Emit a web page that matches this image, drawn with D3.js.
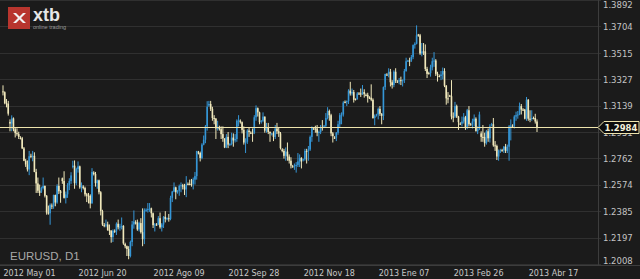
<!DOCTYPE html>
<html>
<head>
<meta charset="utf-8">
<script src="https://cdn.jsdelivr.net/npm/d3@7"></script>
<style>
  html, body { margin: 0; padding: 0; background: #1b1b1b; }
  svg { display: block; }
</style>
</head>
<body>
<div id="chart"></div>
<script>
// EURUSD D1 - velas diarias (precio = valor / 10000), incluye velas de domingo
// cada vela: [apertura, máximo, mínimo, cierre]
const may2012 = [
  [13240,13283,13211,13234],[13234,13240,13148,13156],[13156,13185,13126,13152],[13152,13172,13067,13081],
  [13022,13040,12955,13010],[13010,13069,12955,13047],[13047,13054,12955,12969],[12969,12985,12911,12942],[12942,12976,12923,12935],[12935,12952,12900,12915],
  [12906,12920,12898,12905],[12905,12915,12828,12833],[12833,12843,12742,12745],[12745,12758,12701,12718],[12718,12747,12668,12683],[12683,12815,12642,12777],
  [12780,12795,12765,12775],[12775,12815,12741,12780],[12780,12805,12663,12665],[12665,12687,12515,12583],[12583,12625,12515,12531],[12531,12575,12494,12515],
  [12525,12560,12515,12550],[12550,12625,12540,12565],[12565,12568,12483,12495],[12495,12500,12360,12375],[12375,12425,12360,12370]
];
const jun2012 = [
  [12370,12440,12288,12430],
  [12425,12440,12400,12420],[12420,12503,12402,12500],[12500,12503,12420,12447],[12447,12577,12438,12565],[12565,12625,12507,12527],[12527,12536,12445,12515],
  [12620,12625,12580,12600],[12600,12670,12475,12480],[12480,12525,12440,12505],[12505,12585,12480,12570],[12570,12620,12535,12600],[12600,12663,12580,12640],
  [12700,12745,12690,12710],[12710,12747,12545,12585],[12585,12695,12570,12685],[12685,12740,12660,12705],[12705,12710,12545,12555],[12555,12590,12520,12570],
  [12560,12570,12540,12550],[12550,12560,12490,12505],[12505,12515,12450,12495],[12495,12515,12440,12495],[12495,12505,12405,12440],[12440,12692,12440,12665]
];
const jul2012 = [
  [12660,12670,12640,12650],[12650,12665,12560,12585],[12585,12610,12545,12605],[12605,12610,12505,12520],[12520,12528,12355,12385],[12385,12395,12280,12290],
  [12285,12300,12270,12285],[12285,12325,12270,12290],[12290,12310,12245,12250],[12250,12290,12215,12245],[12245,12250,12160,12200],[12200,12255,12165,12245],
  [12245,12255,12230,12240],[12240,12305,12215,12295],[12295,12325,12255,12270],[12270,12295,12245,12275],[12275,12340,12255,12280],[12280,12285,12145,12155],
  [12150,12160,12120,12135],[12135,12140,12065,12115],[12115,12135,12042,12065],[12065,12175,12055,12165],[12165,12315,12135,12290],[12290,12390,12260,12310],
  [12305,12320,12290,12305],[12305,12325,12245,12255],[12255,12310,12240,12300]
];
const aug2012 = [
  [12300,12335,12225,12235],[12235,12405,12135,12185],[12185,12405,12150,12390],
  [12390,12405,12380,12395],[12395,12443,12375,12400],[12400,12443,12380,12405],[12405,12410,12340,12370],[12370,12375,12265,12285],[12285,12300,12240,12290],
  [12290,12300,12280,12290],[12290,12350,12285,12335],[12335,12375,12260,12270],[12270,12300,12240,12290],[12290,12350,12265,12345],[12345,12385,12305,12330],
  [12330,12340,12320,12335],[12335,12365,12310,12330],[12330,12495,12320,12480],[12480,12530,12450,12525],[12525,12590,12520,12555],[12555,12560,12470,12520],
  [12520,12535,12510,12530],[12530,12575,12495,12565],[12565,12590,12520,12570],[12570,12580,12540,12560],[12560,12580,12500,12540],[12540,12635,12485,12575]
];
const sep2012 = [
  [12580,12590,12570,12580],[12580,12610,12570,12580],[12580,12615,12560,12580],[12580,12625,12540,12610],[12610,12665,12575,12635],[12635,12815,12610,12815],
  [12805,12815,12790,12800],[12800,12810,12740,12765],[12765,12870,12755,12860],[12860,12925,12855,12895],[12895,13000,12870,12990],[12990,13170,12960,13130],
  [13140,13172,13130,13150],[13150,13172,13100,13115],[13115,13130,13030,13050],[13050,13070,13005,13045],[13045,13050,12900,12975],[12975,13030,12960,12980],
  [12985,12995,12960,12970],[12970,12990,12900,12935],[12935,12990,12880,12905],[12905,12905,12835,12840],[12840,12935,12835,12915],[12915,12950,12835,12860],
  [12860,12870,12850,12865]
];
const oct2012 = [
  [12865,12945,12855,12910],[12910,12940,12845,12890],[12890,12935,12875,12900],[12900,13040,12880,13030],[13030,13070,12990,13035],
  [13030,13040,13010,13020],[13020,13025,12940,12965],[12965,12990,12860,12875],[12875,12905,12800,12880],[12880,12970,12865,12960],[12960,12985,12915,12950],
  [12945,12955,12935,12945],[12945,12975,12880,12945],[12945,13070,12935,13055],[13055,13140,13030,13120],[13120,13125,13060,13090],[13090,13095,13005,13020],
  [13025,13035,13010,13030],[13030,13090,13020,13060],[13060,13060,12945,12960],[12960,13015,12945,12980],[12980,13015,12935,12950],[12950,12955,12880,12940],
  [12935,12945,12925,12940],[12940,12955,12885,12915],[12915,13000,12900,12975],[12975,13015,12935,12955]
];
const nov2012 = [
  [12955,12985,12915,12940],[12940,12950,12825,12835],
  [12825,12835,12805,12815],[12815,12830,12760,12780],[12780,12840,12745,12810],[12810,12875,12745,12775],[12775,12790,12725,12745],[12745,12770,12690,12710],
  [12705,12715,12695,12705],[12705,12725,12680,12710],[12710,12735,12660,12715],[12715,12800,12700,12740],[12740,12790,12700,12765],[12765,12770,12690,12740],
  [12750,12760,12740,12755],[12755,12830,12745,12815],[12815,12830,12725,12815],[12815,12850,12745,12825],[12825,12925,12815,12915],[12915,12990,12880,12980],
  [12975,12985,12965,12975],[12975,12995,12945,12975],[12975,13000,12920,12945],[12945,12960,12880,12950],[12950,13000,12935,12985],[12985,13035,12960,12985]
];
const dec2012 = [
  [12990,13000,12980,12995],[12995,13085,12985,13050],[13050,13127,13040,13100],[13100,13110,13030,13070],[13070,13080,12920,12940],[12940,12950,12875,12920],
  [12910,12920,12900,12910],[12910,12950,12885,12945],[12945,13030,12930,13005],[13005,13085,12985,13070],[13070,13090,13005,13075],[13075,13170,13060,13160],
  [13165,13175,13155,13165],[13165,13175,13135,13170],[13170,13255,13150,13245],[13245,13308,13210,13225],[13225,13260,13210,13235],[13235,13250,13160,13180],
  [13185,13190,13175,13185],[13185,13235,13180,13225],[13225,13235,13215,13225],[13225,13260,13200,13220],[13220,13285,13215,13235],[13235,13255,13195,13220],
  [13215,13225,13205,13215],[13215,13230,13160,13195]
];
const jan2013 = [
  [13195,13205,13185,13195],[13195,13290,13170,13180],[13180,13190,13045,13050],[13050,13075,12998,13065],
  [13070,13080,13060,13075],[13075,13125,13040,13115],[13115,13135,13065,13080],[13080,13085,13005,13065],[13065,13275,13035,13270],[13270,13365,13250,13365],
  [13360,13370,13350,13360],[13360,13405,13340,13380],[13380,13400,13275,13305],[13305,13320,13260,13285],[13285,13390,13270,13380],[13380,13405,13300,13315],
  [13310,13320,13300,13310],[13310,13335,13290,13320],[13320,13345,13285,13315],[13315,13325,13275,13320],[13320,13400,13300,13385],[13385,13480,13380,13455],
  [13455,13465,13450,13460],[13460,13480,13420,13460],[13460,13500,13450,13485],[13485,13575,13470,13570],[13570,13590,13545,13580]
];
const feb2013 = [
  [13580,13711,13575,13640],
  [13645,13650,13630,13640],[13640,13650,13500,13510],[13510,13585,13490,13525],[13525,13585,13500,13525],[13525,13575,13385,13400],[13400,13415,13335,13365],
  [13370,13380,13360,13370],[13370,13430,13345,13410],[13410,13480,13390,13455],[13455,13520,13415,13460],[13460,13470,13350,13365],[13365,13380,13310,13360],
  [13350,13360,13340,13350],[13350,13385,13320,13360],[13360,13410,13325,13385],[13385,13405,13270,13280],[13280,13285,13145,13190],[13190,13235,13155,13190],
  [13210,13215,13200,13205],[13205,13320,13040,13060],[13060,13090,13020,13060],[13060,13165,13050,13135],[13135,13145,13050,13060]
];
const mar2013 = [
  [13060,13065,12965,13020],
  [13010,13020,13000,13010],[13010,13060,12990,13025],[13025,13085,13010,13055],[13055,13065,12965,12985],[12985,13115,12970,13105],[13105,13135,12990,13005],
  [13005,13015,12995,13005],[13005,13045,12975,13025],[13025,13075,12990,13045],[13045,13055,12955,12955],[12955,12990,12935,12970],[12970,13095,12965,13075],
  [12940,12955,12880,12915],[12915,13000,12880,12915],[12915,12945,12845,12870],[12870,12965,12860,12955],[12955,12975,12880,12905],[12905,13005,12875,12990],
  [13000,13015,12990,13005],[13005,13050,12845,12855],[12855,12885,12815,12850],[12850,12860,12750,12775],[12775,12825,12745,12815],[12815,12830,12800,12820],
  [12820,12830,12810,12820]
];
const apr2013 = [
  [12820,12850,12800,12845],[12845,12865,12800,12815],[12815,12860,12800,12845],[12845,13000,12745,12990],[12990,13040,12890,12995],
  [12995,13005,12985,12995],[12995,13070,12975,13060],[13060,13095,13030,13070],[13070,13100,13045,13075],[13075,13160,13070,13135],[13135,13150,13075,13110],
  [13110,13120,13100,13110],[13110,13115,13040,13045],[13045,13200,13030,13180],[13180,13185,13030,13045],[13045,13105,13020,13045],[13045,13105,13030,13050],
  [13050,13060,13040,13050],[13050,13080,13010,13025],[13025,13040,12950,12984]
];

const firstDay = '2012-05-01';
const symbolLabel = 'EURUSD, D1';
const lastPrice = 1.2984;
const priceTicks = [1.2008, 1.2197, 1.2385, 1.2574, 1.2762, 1.2951, 1.3139, 1.3327, 1.3515, 1.3704, 1.3892];
const dateTicks = ['2012-05-01', '2012-06-20', '2012-08-09', '2012-09-28', '2012-11-18', '2013-01-07', '2013-02-26', '2013-04-17'];
const dateTickLabels = ['2012 May 01', '2012 Jun 20', '2012 Ago 09', '2012 Sep 28', '2012 Nov 18', '2013 Ene 07', '2013 Feb 26', '2013 Abr 17'];

// Construcción de velas con fechas (sin sábados)
const raw = [].concat(may2012, jun2012, jul2012, aug2012, sep2012, oct2012, nov2012, dec2012, jan2013, feb2013, mar2013, apr2013);
const fmt = d3.timeFormat('%Y-%m-%d');
const candles = [];
let day = d3.timeParse('%Y-%m-%d')(firstDay);
raw.forEach((r, i) => {
    while (day.getDay() === 6) day = d3.timeDay.offset(day, 1);
    candles.push({ i, date: fmt(day), o: r[0] / 1e4, h: r[1] / 1e4, l: r[2] / 1e4, c: r[3] / 1e4 });
    day = d3.timeDay.offset(day, 1);
});

const W = 640, H = 279;
const plotRight = 598, plotBottom = 265;
const upColor = '#3596d6', downColor = '#f0e8bb';
const priceLineColor = '#eee4ad';

const svg = d3.select('#chart').append('svg')
    .attr('width', W).attr('height', H)
    .style('font-family', '"DejaVu Sans", Verdana, sans-serif');

svg.append('rect').attr('width', W).attr('height', H).attr('fill', '#1b1b1b');

// Escalas
const x = d3.scaleLinear().domain([0, candles.length - 1]).range([3, 537]);
const y = d3.scaleLinear().domain([priceTicks[0], priceTicks[priceTicks.length - 1]]).range([264, 0]);

// Rejilla horizontal
svg.append('g').selectAll('line')
    .data(priceTicks)
    .join('line')
    .attr('x1', 0).attr('x2', plotRight + 3)
    .attr('y1', d => Math.round(y(d)) + 0.5).attr('y2', d => Math.round(y(d)) + 0.5)
    .attr('stroke', '#303030').attr('stroke-width', 1);

// Bordes de los ejes
svg.append('line')
    .attr('x1', plotRight + 0.5).attr('x2', plotRight + 0.5)
    .attr('y1', 0).attr('y2', plotBottom)
    .attr('stroke', '#3d3d3d');
svg.append('line')
    .attr('x1', 0).attr('x2', W)
    .attr('y1', plotBottom + 0.5).attr('y2', plotBottom + 0.5)
    .attr('stroke', '#3d3d3d');

// Etiquetas eje Y (la del último precio tapa a la que cae debajo)
svg.append('g').selectAll('text')
    .data(priceTicks)
    .join('text')
    .attr('x', 603)
    .attr('y', d => Math.max(5, Math.min(260.5, y(d) + 0.8)))
    .attr('dominant-baseline', 'central')
    .attr('font-size', '8.5px').attr('fill', '#c4c4c4')
    .text(d => d3.format('.4f')(d));

// Eje X (por índice de vela)
const tickIdx = dateTicks.map(t => candles.findIndex(c => c.date === t));
const xAxis = svg.append('g')
    .attr('transform', `translate(0,${plotBottom})`)
    .call(d3.axisBottom(x).tickValues(tickIdx).tickSize(0).tickFormat((d, i) => dateTickLabels[i]));
xAxis.select('.domain').remove();
xAxis.selectAll('text')
    .attr('text-anchor', 'start')
    .attr('dy', 0).attr('y', 11)
    .attr('font-size', '8px')
    .attr('font-family', '"DejaVu Sans", Verdana, sans-serif')
    .attr('fill', '#c8c8c8');

// Velas
const cg = svg.append('g');
candles.forEach(d => {
    const color = d.c > d.o ? upColor : downColor;
    const cx = x(d.i);
    cg.append('line')
        .attr('x1', cx).attr('x2', cx)
        .attr('y1', y(d.h)).attr('y2', y(d.l))
        .attr('stroke', color).attr('stroke-width', 1);
    const top = y(Math.max(d.o, d.c)), bot = y(Math.min(d.o, d.c));
    cg.append('rect')
        .attr('x', cx - 0.8).attr('width', 1.6)
        .attr('y', top).attr('height', Math.max(1, bot - top))
        .attr('fill', color);
});

// Línea de último precio
const yLast = Math.round(y(lastPrice)) + 0.5;
svg.append('line')
    .attr('x1', 0).attr('x2', plotRight)
    .attr('y1', yLast).attr('y2', yLast)
    .attr('stroke', priceLineColor).attr('stroke-width', 1);
svg.append('path')
    .attr('d', `M${plotRight},${yLast} L${plotRight + 6},${yLast - 6} H639 V${yLast + 6} H${plotRight + 6} Z`)
    .attr('fill', '#0d0d0d').attr('stroke', priceLineColor).attr('stroke-width', 1);
svg.append('text')
    .attr('x', 621).attr('y', yLast + 0.5)
    .attr('text-anchor', 'middle').attr('dominant-baseline', 'central')
    .attr('font-size', '8.5px').attr('font-weight', 'bold').attr('fill', '#f4f0dc')
    .text(d3.format('.4f')(lastPrice));

// Símbolo
svg.append('text')
    .attr('x', 10).attr('y', 260)
    .attr('font-family', '"Liberation Sans", Arial, sans-serif')
    .attr('font-size', '11.5px').attr('fill', '#a8a8a8')
    .text(symbolLabel);

// Logo xtb
const logo = svg.append('g').attr('transform', 'translate(8,7)');
logo.append('rect').attr('width', 22).attr('height', 22).attr('fill', '#b8352e');
logo.append('path')
    .attr('d', 'M5,6 L10,11 L5,16 L8,16 L11.5,12.5 L15,16 L18,16 L13,11 L18,6 L15,6 L11.5,9.5 L8,6 Z')
    .attr('fill', '#f2f2f2');
logo.append('text')
    .attr('x', 25).attr('y', 13.5)
    .attr('font-family', '"Liberation Sans", Arial, sans-serif')
    .attr('font-size', '18px').attr('font-weight', 'bold').attr('fill', '#e6e6e6')
    .text('xtb');
logo.append('text')
    .attr('x', 25).attr('y', 22)
    .attr('font-family', '"Liberation Sans", Arial, sans-serif')
    .attr('font-size', '5.5px').attr('fill', '#9a9a9a')
    .text('online trading');
</script>
</body>
</html>
